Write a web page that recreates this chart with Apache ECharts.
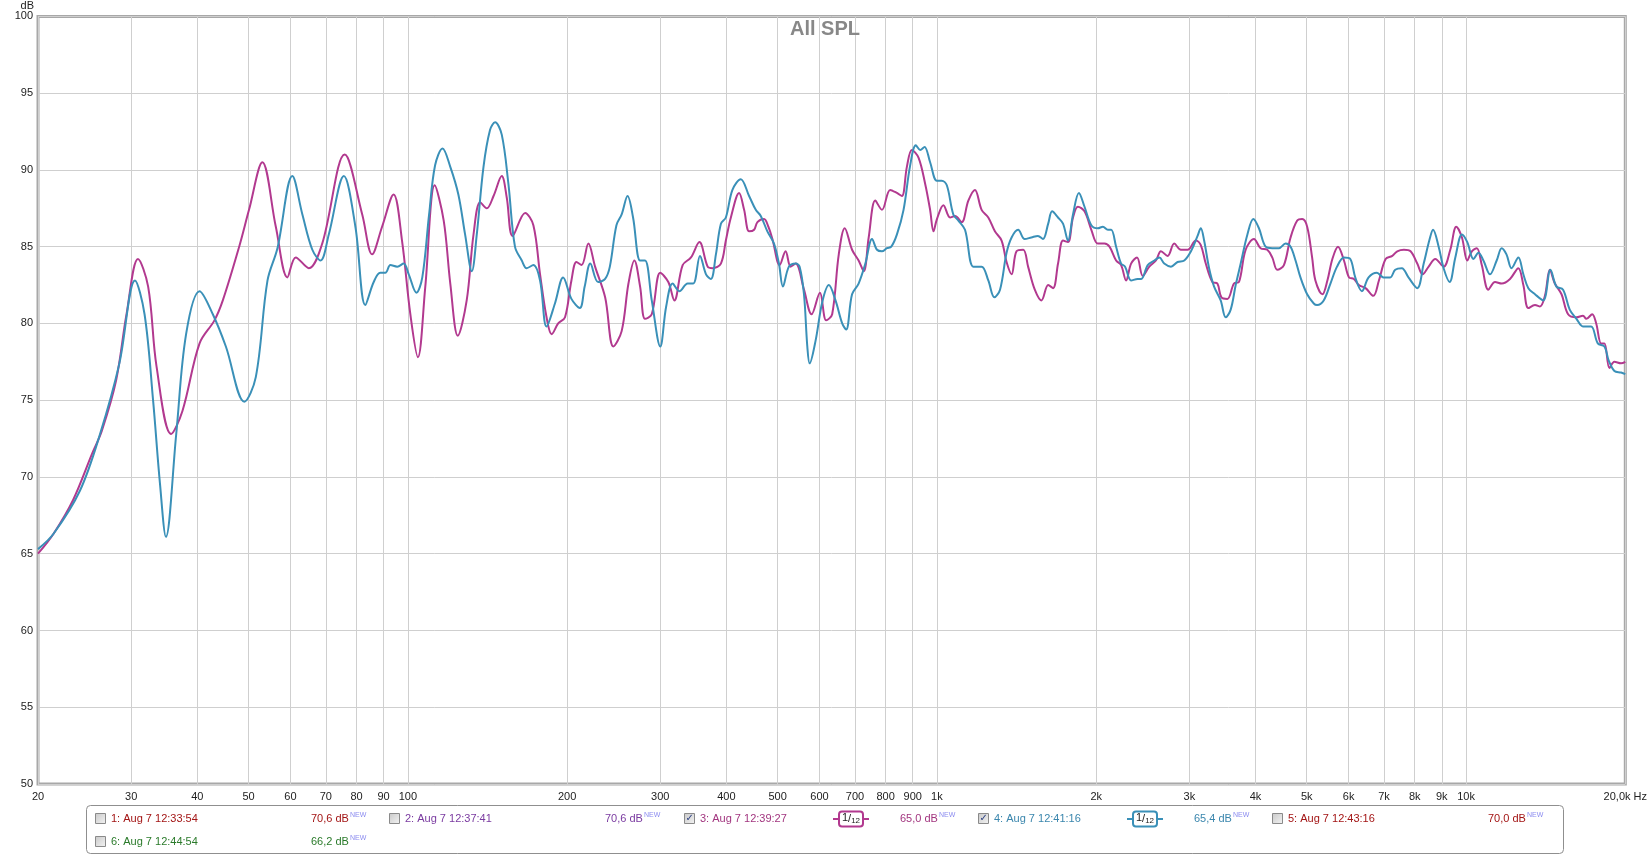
<!DOCTYPE html>
<html><head><meta charset="utf-8">
<script src="https://cdn.jsdelivr.net/npm/echarts@6/dist/echarts.min.js"></script>
<style>html,body{margin:0;padding:0;background:#fff}#c{width:1650px;height:856px}</style>
</head><body><div id="c"></div>
<script>
// ---------- data ----------
const xTicks = [20,30,40,50,60,70,80,90,100,200,300,400,500,600,700,800,900,1000,2000,3000,4000,5000,6000,7000,8000,9000,10000,20000];
const xTickLabels = ['20','30','40','50','60','70','80','90','100','200','300','400','500','600','700','800','900','1k','2k','3k','4k','5k','6k','7k','8k','9k','10k','20,0k Hz'];
const yMin = 50, yMax = 100, yStep = 5;

const magFreq = [20,21.4,23.3,25.3,26.4,28.1,29.4,30.9,32.3,33.5,35.7,37.5,40.4,43.1,44.7,48.0,50.1,53.1,56.3,59.2,61.4,65.0,68.9,76.0,82.0,85.6,89.4,94.0,97.5,101.1,104.5,107.9,112.4,116.9,120.3,124.3,129.2,133.1,137.0,141.0,145.2,150.5,153.8,157.8,166.6,172.7,177.8,182.9,187.0,192.4,198.2,203.8,208.3,213.0,219.4,225.9,236.0,244.6,253.6,261.2,268.0,274.8,280.7,289.1,300.0,310.7,319.0,330.7,342.9,355.7,368.7,376.7,390.6,399.1,407.9,422.8,432.1,441.6,451.3,457.9,471.3,480.2,488.7,504.4,517.6,529.2,540.9,560.7,579.6,601.0,617.6,633.9,652.4,669.6,691.2,711.2,727.2,743.1,764.8,787.3,815.9,840.3,858.6,877.4,896.6,923.0,950.0,970.8,985.1,1000,1028.7,1058.8,1082,1113.8,1146.5,1179.8,1214.7,1250.5,1287,1325,1354,1384,1414,1456,1487,1531,1576,1623,1658,1694,1731,1769,1808,1847,1901,1958,2014,2073,2119,2181,2229,2278,2328,2389,2449,2520,2594,2651,2729,2809,2891,2977,3086,3153,3222,3316,3389,3449,3540,3643,3723,3833,3974,4090,4211,4303,4398,4527,4660,4797,4902,5009,5118,5192,5353,5470,5590,5728,5879,6009,6138,6272,6459,6680,6845,7048,7255,7415,7632,7856,8088,8280,8499,8749,9071,9338,9584,9824,10055,10257,10481,10710,11023,11346,11680,12111,12557,12834,13115,13500,13796,14098,14403,14720,15154,15594,16172,16636,16882,17318,17622,18005,18265,18664,19074,19634,20000];
const magDb = [65.0,66.3,68.5,71.5,73.0,76.3,80.6,84.2,82.4,77.2,72.8,74.3,78.7,80.2,81.5,85.0,87.4,90.5,86.3,83.0,84.3,83.6,85.2,91.0,87.1,84.5,86.3,88.4,85.4,80.6,77.8,82.4,89.0,86.7,82.6,79.2,81.5,85.8,87.9,87.5,88.3,89.6,88.2,85.7,87.2,86.4,83.2,80.4,79.3,80.0,80.4,82.8,84.0,83.8,85.2,83.7,81.7,78.5,79.5,82.6,84.1,82.4,80.3,80.6,83.3,82.7,81.5,83.8,84.3,85.3,83.7,83.6,83.9,85.4,86.9,88.5,87.4,86.0,86.1,86.6,86.8,86.3,85.5,83.8,84.7,83.7,83.9,82.2,80.6,82.0,80.2,80.6,84.5,86.2,84.8,84.1,83.4,85.6,88.0,87.4,88.7,88.5,88.3,90.2,91.3,90.8,89.1,87.4,86.0,86.8,87.7,86.9,87.0,86.6,88.0,88.7,87.4,86.9,86.0,85.4,84.0,83.2,84.7,84.8,83.7,82.2,81.5,82.5,82.3,83.9,85.4,85.3,86.9,87.6,87.3,86.1,85.2,85.2,85.0,84.1,83.8,82.8,83.9,84.3,83.1,83.7,84.1,84.7,84.4,85.2,84.8,84.8,85.4,85.1,83.9,82.7,82.6,81.7,81.6,82.6,82.7,84.8,85.5,84.9,84.8,84.3,83.5,83.8,85.6,86.7,86.8,86.3,84.3,82.8,81.9,82.8,84.2,85.0,84.1,83.0,82.9,82.5,82.3,81.8,82.8,84.2,84.4,84.7,84.8,84.7,83.9,83.2,83.7,84.2,83.7,84.8,86.3,85.6,84.1,84.7,84.9,83.8,82.2,82.7,82.6,82.9,83.6,82.5,81.0,81.2,81.1,81.8,83.5,82.6,81.9,80.6,80.4,80.5,80.3,80.6,80.0,78.7,78.7,77.1,77.5,77.4,77.5];

const blueFreq = [20,21.4,24.0,26.2,28.5,30.5,31.8,33.0,34.0,34.9,36.5,38.1,40.4,42.8,45.3,49.1,51.6,54.3,56.7,60.5,63.2,66.0,68.4,70.9,75.7,79.6,83.1,86.2,88.7,90.7,92.7,95.5,98.2,100.4,103.8,106.5,109.7,112.6,116.3,120.3,124.6,128.3,132.1,135.0,139.0,143.0,146.2,150.5,154.9,159.4,164.2,167.7,172.7,177.8,182.9,189.7,196.6,203.8,211.4,215.9,221.3,228.9,236.0,240.9,247.9,253.6,260.2,266.5,274.8,280.7,289.1,300.0,307.8,316.6,326.0,338.0,346.3,356.6,366.1,374.0,382.2,390.6,399.1,410.7,425.9,441.6,454.6,464.6,478.1,492.1,502.8,511.6,525.1,540.9,550.2,560.7,568.9,574.7,589.9,607.2,624.9,643.2,662.2,673.7,691.2,711.2,732.4,754.0,770.5,787.3,804.4,819.8,840.3,864.8,890.1,912.4,929.6,947.5,970.8,999.4,1021,1044,1074,1098,1130,1172,1214.7,1250.5,1284,1316,1354,1384,1424,1465,1508,1552,1586,1623,1651,1694,1731,1769,1808,1855,1901,1958,2014,2059,2104,2135,2181,2229,2268,2328,2396,2433,2503,2576,2633,2689,2769,2850,2934,3021,3109,3153,3199,3269,3341,3438,3514,3591,3670,3751,3862,3963,4061,4181,4303,4429,4559,4660,4762,4865,5009,5155,5231,5383,5543,5704,5879,6043,6175,6356,6545,6786,6983,7191,7348,7563,7784,8088,8318,8537,8663,8877,9071,9311,9545,9824,10055,10331,10555,10786,11102,11427,11680,11925,12188,12557,12834,13115,13500,13995,14440,14822,15255,15703,16172,16636,17235,17744,18265,18600,19074,19634,20000];
const blueDb = [65.3,66.3,69.1,72.8,77.4,82.8,80.6,75.0,69.6,66.1,72.8,79.3,82.1,80.6,78.5,74.9,76.5,82.8,84.9,89.6,87.1,84.8,84.1,85.8,89.6,86.3,81.2,82.7,83.3,83.3,83.8,83.7,83.9,83.2,82.0,83.0,87.1,90.3,91.4,90.2,88.4,85.8,83.4,85.8,90.2,92.6,93.1,92.3,89.1,85.0,84.1,83.6,83.8,82.8,79.8,81.3,83.0,81.6,81.0,82.4,83.9,82.7,82.9,83.7,86.4,87.1,88.3,86.9,84.1,84.1,81.5,78.5,81.1,82.6,82.1,82.6,82.6,84.4,83.2,82.9,84.5,86.5,86.9,88.7,89.4,88.3,87.4,87.0,86.0,85.2,83.9,82.4,83.7,83.9,83.7,81.9,78.5,77.4,78.9,81.4,82.5,81.5,80.0,79.6,81.9,82.6,83.9,85.5,84.8,84.7,84.9,85.0,85.8,87.4,90.3,91.6,91.3,91.5,90.5,89.3,89.3,89.0,87.1,86.7,86.1,83.7,83.7,82.8,81.7,82.2,84.6,85.6,86.1,85.5,85.6,85.7,85.5,86.5,87.3,86.9,86.5,85.4,87.1,88.5,87.6,86.4,86.2,86.3,86.1,86.1,85.0,83.9,83.7,82.8,82.9,82.9,83.8,84.1,84.3,83.9,83.7,84.0,84.1,84.7,85.7,86.2,85.4,83.6,82.4,81.5,80.4,80.9,82.5,83.9,85.8,86.8,86.2,85.0,84.9,84.9,85.2,85.0,84.1,83.0,81.9,81.3,81.2,81.5,82.6,83.7,84.3,84.2,83.0,82.1,83.0,83.3,83.0,83.0,83.5,83.6,83.0,82.3,83.9,85.5,86.1,85.0,83.6,82.7,84.3,85.8,85.3,84.2,84.6,84.1,83.2,84.1,84.9,84.5,83.6,84.3,83.2,82.3,81.9,81.5,83.5,82.4,82.2,80.9,80.3,79.8,79.8,78.7,78.5,77.6,76.9,76.8,76.7];

const titleText = 'All SPL';
const legendLabels = ['1: Aug 7 12:33:54','2: Aug 7 12:37:41','3: Aug 7 12:39:27','4: Aug 7 12:41:16','5: Aug 7 12:43:16','6: Aug 7 12:44:54'];
const legendLevels = ['70,6 dB','70,6 dB','65,0 dB','65,4 dB','70,0 dB','66,2 dB'];
const legendChecked = [false,false,true,true,false,false];
const smoothingNum = '1', smoothingDen = '12';

// ---------- styling / layout ----------
const FONT = '"Liberation Sans", Arial, sans-serif';
const legendColors = ['#a31515','#7a3aa0','#a2357f','#3a86ad','#a31515','#2a7a2a'];
const magColor = '#b2398f', blueColor = '#3a90b8';

const chart = echarts.init(document.getElementById('c'), null, {renderer:'canvas'});

function xLabel(v){
  for (let i=0;i<xTicks.length;i++){ if (Math.abs(v - xTicks[i]) / xTicks[i] < 1e-3) return xTickLabels[i]; }
  return '';
}

// legend graphics
const g = [];
g.push({type:'rect', shape:{x:86.5,y:805.5,width:1477,height:48,r:4}, style:{fill:'#fff',stroke:'#8f8f8f',lineWidth:1}, z:10});
const colX = [95,389,684,978,1272,95];
const rowY = [819,819,819,819,819,842];
for (let i=0;i<legendLabels.length;i++){
  const x = colX[i], y = rowY[i];
  g.push({type:'rect', shape:{x:x+0.5,y:y-5.5,width:10,height:10}, style:{fill:{type:'linear',x:0,y:0,x2:1,y2:1,colorStops:[{offset:0,color:'#c8c8c8'},{offset:1,color:'#f4f4f4'}]},stroke:'#8a8a8a',lineWidth:1}, z:11});
  if (legendChecked[i]) g.push({type:'text', x:x+1.5, y:y-6, style:{text:'✓', font:'bold 10px "DejaVu Sans"', fill:'#2b3f80'}, z:12});
  g.push({type:'text', x:x+16, y:y, style:{text:legendLabels[i], font:'11px '+FONT, fill:legendColors[i], verticalAlign:'middle'}, z:12});
  g.push({type:'text', x:x+216, y:y, style:{text:'{v|'+legendLevels[i]+'}{n|NEW}', verticalAlign:'middle', rich:{v:{font:'11px '+FONT, fill:legendColors[i]}, n:{font:'7px '+FONT, fill:'#8c8cf0', padding:[0,0,7,1]}}}, z:12});
  if (legendChecked[i]){
    const sx = x+150, c = i===2 ? magColor : blueColor;
    g.push({type:'line', shape:{x1:sx-1,y1:y,x2:sx+5,y2:y}, style:{stroke:c,lineWidth:2}, z:11});
    g.push({type:'line', shape:{x1:sx+29,y1:y,x2:sx+35,y2:y}, style:{stroke:c,lineWidth:2}, z:11});
    g.push({type:'rect', shape:{x:sx+5,y:y-7.5,width:24,height:15,r:3}, style:{fill:'#fff',stroke:c,lineWidth:2}, z:11});
    g.push({type:'text', x:sx+17, y:y, style:{text:'{a|'+smoothingNum+'}{s|/}{b|'+smoothingDen+'}', align:'center', verticalAlign:'middle',
      rich:{a:{font:'11px '+FONT, fill:'#222', padding:[0,0,3,0]}, s:{font:'11px '+FONT, fill:'#222'}, b:{font:'8px '+FONT, fill:'#222', padding:[3,0,0,0]}}}, z:12});
  }
}

chart.setOption({
  animation:false,
  backgroundColor:'#fff',
  title:{text:titleText, left:'center', top:14, textStyle:{fontFamily:FONT, fontSize:20, fontWeight:'bold', color:'#888'}},
  grid:{left:38, right:18, top:15, bottom:72, show:true, borderColor:'#a8a8a8', borderWidth:3, backgroundColor:'#fff'},
  xAxis:{type:'log', logBase:10, min:20, max:20000,
    axisLine:{show:false}, axisTick:{show:false, customValues:xTicks},
    axisLabel:{customValues:xTicks, formatter:xLabel, fontFamily:FONT, fontSize:11, color:'#222', margin:7, showMinLabel:true, showMaxLabel:true, hideOverlap:false},
    splitLine:{show:true, lineStyle:{color:'#cfcfcf', width:1}}, minorSplitLine:{show:false}},
  yAxis:{type:'value', min:yMin, max:yMax, interval:yStep, name:'dB', nameLocation:'end', nameGap:2,
    nameTextStyle:{fontFamily:FONT, fontSize:11, color:'#222', align:'right', padding:[0,4,0,0]},
    axisLine:{show:false}, axisTick:{show:false},
    axisLabel:{fontFamily:FONT, fontSize:11, color:'#222', margin:5},
    splitLine:{show:true, lineStyle:{color:'#cfcfcf', width:1}}},
  series:[
    {name:legendLabels[2], type:'line', data:magFreq.map((f,i)=>[f,magDb[i]]), showSymbol:false, smooth:0.35, lineStyle:{color:magColor,width:2}, itemStyle:{color:magColor}, z:3},
    {name:legendLabels[3], type:'line', data:blueFreq.map((f,i)=>[f,blueDb[i]]), showSymbol:false, smooth:0.35, lineStyle:{color:blueColor,width:2}, itemStyle:{color:blueColor}, z:4}
  ],
  graphic:g
});
</script>
</body></html>
